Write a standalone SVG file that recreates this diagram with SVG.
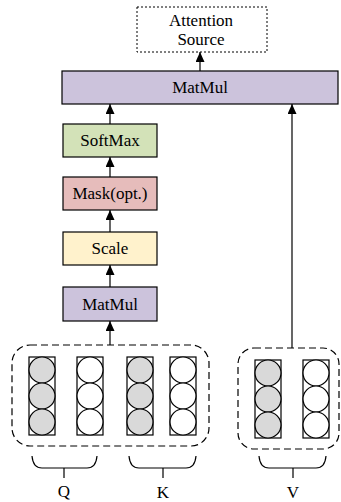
<svg xmlns="http://www.w3.org/2000/svg" width="341" height="502" viewBox="0 0 341 502">
<defs>
<marker id="ah" markerWidth="10" markerHeight="9" refX="10" refY="4.5" orient="auto" markerUnits="userSpaceOnUse" viewBox="0 0 10 9">
<path d="M0,0 L10,4.5 L0,9 Z" fill="#000"/>
</marker>
<style>
.box{stroke:#000;stroke-width:1.2}
.t{font-family:"Liberation Serif","Times New Roman",serif;font-size:17px;fill:#000;text-anchor:middle}
.lbl{font-family:"Liberation Serif","Times New Roman",serif;font-size:17px;fill:#000;text-anchor:middle}
.conn{stroke:#000;stroke-width:1.2;fill:none}
.dash{fill:none;stroke:#000;stroke-width:1.2;stroke-dasharray:7,4}
.col{fill:#fff;stroke:#000;stroke-width:1.2}
.cg{fill:#d9d9d9;stroke:#000;stroke-width:1.2}
.cw{fill:#fff;stroke:#000;stroke-width:1.2}
.br{fill:none;stroke:#000;stroke-width:1.2}
</style>
</defs>

<g id="attention-source">
<rect x="137" y="7" width="130" height="45" fill="#fff" stroke="#000" stroke-width="1" stroke-dasharray="2,2"/>
<text class="t" x="201" y="26">Attention</text>
<text class="t" x="201" y="45">Source</text>
</g>

<g id="matmul-top">
<rect class="box" x="62" y="71" width="276" height="33" fill="#ccc3dc"/>
<text class="t" x="200" y="93">MatMul</text>
</g>

<g id="softmax">
<rect class="box" x="63" y="124" width="94" height="33" fill="#d3e2b8"/>
<text class="t" x="110" y="146">SoftMax</text>
</g>

<g id="mask">
<rect class="box" x="63" y="177" width="94" height="33" fill="#e6bcbb"/>
<text class="t" x="110" y="199">Mask(opt.)</text>
</g>

<g id="scale">
<rect class="box" x="63" y="232" width="94" height="33" fill="#fff2cc"/>
<text class="t" x="110" y="254">Scale</text>
</g>

<g id="matmul-bottom">
<rect class="box" x="63" y="287" width="94" height="34" fill="#ccc3dc"/>
<text class="t" x="110" y="309.5">MatMul</text>
</g>

<g id="qk-group">
<rect class="dash" x="12" y="345" width="197" height="101" rx="18" ry="18"/>
<g id="q1">
<rect class="col" x="29" y="357" width="26" height="78"/>
<circle class="cg" cx="42" cy="370" r="13"/>
<circle class="cg" cx="42" cy="396" r="13"/>
<circle class="cg" cx="42" cy="422" r="13"/>
</g>
<g id="q2">
<rect class="col" x="77" y="357" width="26" height="78"/>
<circle class="cw" cx="90" cy="370" r="13"/>
<circle class="cw" cx="90" cy="396" r="13"/>
<circle class="cw" cx="90" cy="422" r="13"/>
</g>
<g id="k1">
<rect class="col" x="127" y="357" width="26" height="78"/>
<circle class="cg" cx="140" cy="370" r="13"/>
<circle class="cg" cx="140" cy="396" r="13"/>
<circle class="cg" cx="140" cy="422" r="13"/>
</g>
<g id="k2">
<rect class="col" x="170" y="357" width="26" height="78"/>
<circle class="cw" cx="183" cy="370" r="13"/>
<circle class="cw" cx="183" cy="396" r="13"/>
<circle class="cw" cx="183" cy="422" r="13"/>
</g>
</g>

<g id="v-group">
<rect class="dash" x="238" y="348" width="101" height="101" rx="16" ry="16"/>
<g id="v1">
<rect class="col" x="255" y="360" width="26" height="78"/>
<circle class="cg" cx="268" cy="373" r="13"/>
<circle class="cg" cx="268" cy="399" r="13"/>
<circle class="cg" cx="268" cy="425" r="13"/>
</g>
<g id="v2">
<rect class="col" x="303" y="360" width="26" height="78"/>
<circle class="cw" cx="316" cy="373" r="13"/>
<circle class="cw" cx="316" cy="399" r="13"/>
<circle class="cw" cx="316" cy="425" r="13"/>
</g>
</g>

<g id="brace-q">
<path class="br" d="M32,456 Q33,468 42,468 H87 Q96,468 97,456 M64,468 V478"/>
<text class="lbl" x="64" y="497">Q</text>
</g>
<g id="brace-k">
<path class="br" d="M129,456 Q130,468 139,468 H186 Q195,468 196,456 M163,468 V478"/>
<text class="lbl" x="163" y="498">K</text>
</g>
<g id="brace-v">
<path class="br" d="M259,456 Q260,468 269,468 H316 Q325,468 326,456 M293,468 V478"/>
<text class="lbl" x="293" y="498">V</text>
</g>

<g id="connectors">
<line class="conn" x1="200" y1="71" x2="200" y2="52" marker-end="url(#ah)"/>
<line class="conn" x1="110" y1="124" x2="110" y2="104" marker-end="url(#ah)"/>
<line class="conn" x1="110" y1="177" x2="110" y2="157" marker-end="url(#ah)"/>
<line class="conn" x1="110" y1="232" x2="110" y2="210" marker-end="url(#ah)"/>
<line class="conn" x1="110" y1="287" x2="110" y2="265" marker-end="url(#ah)"/>
<line class="conn" x1="110" y1="345" x2="110" y2="321" marker-end="url(#ah)"/>
<line class="conn" x1="292" y1="348" x2="292" y2="104" marker-end="url(#ah)"/>
</g>
</svg>
